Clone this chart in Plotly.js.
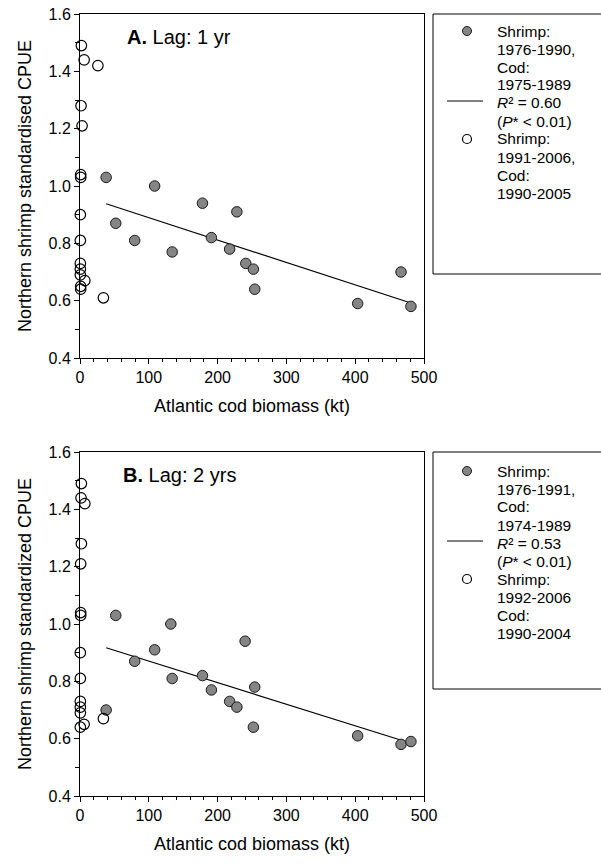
<!DOCTYPE html>
<html>
<head>
<meta charset="utf-8">
<script src="https://cdn.plot.ly/plotly-3.0.1.min.js"></script>
<style>html,body{margin:0;padding:0;background:#fff;}#chart{width:601px;height:867px;}</style>
</head>
<body>
<div id="chart"></div>
<script>
// ---- Panel A (lag 1 yr) ----
const codA_early = [38, 108.5, 178, 228, 52, 79.5, 134, 191, 217.5, 241, 252, 254, 466.6, 403.6, 481];
const cpueA_early = [1.03, 1.00, 0.94, 0.91, 0.87, 0.81, 0.77, 0.82, 0.78, 0.73, 0.71, 0.64, 0.70, 0.59, 0.58];
const codA_late = [2, 6, 26, 1.5, 3, 1, 1, 0.5, 0.5, 0.5, 0.5, 0.5, 7, 1, 1, 34];
const cpueA_late = [1.49, 1.44, 1.42, 1.28, 1.21, 1.04, 1.03, 0.90, 0.81, 0.73, 0.71, 0.69, 0.67, 0.65, 0.64, 0.61];
const fitA_x = [38, 481];
const fitA_y = [0.938, 0.592];
const legendA = ["Shrimp:", "1976-1990,", "Cod:", "1975-1989", "<i>R</i>² = 0.60", "(<i>P</i>* &lt; 0.01)", "Shrimp:", "1991-2006,", "Cod:", "1990-2005"];

// ---- Panel B (lag 2 yrs) ----
const codB_early = [52, 132, 108.5, 79.5, 134, 178, 191, 217.5, 228, 38, 240, 254, 252, 403.6, 466.6, 481];
const cpueB_early = [1.03, 1.00, 0.91, 0.87, 0.81, 0.82, 0.77, 0.73, 0.71, 0.70, 0.94, 0.78, 0.64, 0.61, 0.58, 0.59];
const codB_late = [2, 1.5, 7, 2, 1, 1, 1, 0.5, 0.5, 0.5, 0.5, 0.5, 0.5, 6, 34];
const cpueB_late = [1.49, 1.44, 1.42, 1.28, 1.21, 1.04, 1.03, 0.90, 0.81, 0.73, 0.71, 0.69, 0.64, 0.65, 0.67];
const fitB_x = [38, 481];
const fitB_y = [0.917, 0.584];
const legendB = ["Shrimp:", "1976-1991,", "Cod:", "1974-1989", "<i>R</i>² = 0.53", "(<i>P</i>* &lt; 0.01)", "Shrimp:", "1992-2006", "Cod:", "1990-2004"];

const xTicks = [0, 100, 200, 300, 400, 500];
const yTicks = [0.4, 0.6, 0.8, 1.0, 1.2, 1.4, 1.6];

const W = 601, H = 867;
const FONT = 'Liberation Sans, Arial, Helvetica, sans-serif';
const GRAY = '#858585';
const px = v => v / W;
const py = v => 1 - v / H;

function grayTrace(x, y, xa, ya) {
  return {x: x, y: y, xaxis: xa, yaxis: ya, type: 'scatter', mode: 'markers', cliponaxis: false,
    marker: {size: 10.5, color: GRAY, line: {color: '#1a1a1a', width: 1}}, showlegend: false, hoverinfo: 'skip'};
}
function openTrace(x, y, xa, ya) {
  return {x: x, y: y, xaxis: xa, yaxis: ya, type: 'scatter', mode: 'markers', cliponaxis: false,
    marker: {size: 10.5, color: 'rgba(255,255,255,0)', line: {color: '#000', width: 1.2}}, showlegend: false, hoverinfo: 'skip'};
}
function fitTrace(x, y, xa, ya) {
  return {x: x, y: y, xaxis: xa, yaxis: ya, type: 'scatter', mode: 'lines', cliponaxis: false,
    line: {color: '#000', width: 1.2}, showlegend: false, hoverinfo: 'skip'};
}

const traces = [
  fitTrace(fitA_x, fitA_y, 'x', 'y'),
  grayTrace(codA_early, cpueA_early, 'x', 'y'),
  openTrace(codA_late, cpueA_late, 'x', 'y'),
  fitTrace(fitB_x, fitB_y, 'x2', 'y2'),
  grayTrace(codB_early, cpueB_early, 'x2', 'y2'),
  openTrace(codB_late, cpueB_late, 'x2', 'y2')
];

function xAxis(domainAnchor) {
  return {
    domain: [px(80), px(424)], anchor: domainAnchor, range: [0, 500],
    tickmode: 'array', tickvals: xTicks, ticktext: xTicks.map(String),
    ticks: 'outside', ticklen: 5, tickwidth: 1, tickcolor: '#000',
    minor: {dtick: 20, tick0: 0, ticks: 'outside', ticklen: 3, tickwidth: 1, tickcolor: '#000', showgrid: false},
    showline: true, linecolor: '#000', linewidth: 1, mirror: true,
    showgrid: false, zeroline: false,
    tickfont: {family: FONT, size: 16, color: '#000'},
    title: {text: 'Atlantic cod biomass (kt)', font: {family: FONT, size: 18, color: '#000'}, standoff: 14}
  };
}
function yAxis(domain, anchor, title) {
  return {
    domain: domain, anchor: anchor, range: [0.4, 1.6],
    tickmode: 'array', tickvals: yTicks, ticktext: yTicks.map(v => v.toFixed(1)),
    ticks: 'outside', ticklen: 5, tickwidth: 1, tickcolor: '#000',
    minor: {dtick: 0.1, tick0: 0.4, ticks: 'outside', ticklen: 4, tickwidth: 1, tickcolor: '#000', showgrid: false},
    showline: true, linecolor: '#000', linewidth: 1, mirror: true,
    showgrid: false, zeroline: false,
    tickfont: {family: FONT, size: 16, color: '#000'},
    title: {text: title, font: {family: FONT, size: 18, color: '#000'}, standoff: 12}
  };
}

const shapes = [];
const annotations = [];

function addLegend(labels, boxTop, boxBottom, firstRow) {
  const step = 18;
  shapes.push({type: 'rect', xref: 'paper', yref: 'paper', x0: px(433), x1: px(620), y0: py(boxBottom), y1: py(boxTop),
    line: {color: '#000', width: 1}, fillcolor: 'rgba(0,0,0,0)'});
  labels.forEach((t, i) => {
    annotations.push({xref: 'paper', yref: 'paper', x: px(496), y: py(firstRow + i * step), xanchor: 'left', yanchor: 'middle',
      text: t, showarrow: false, borderpad: 0, font: {family: FONT, size: 15.5, color: '#000'}});
  });
  // symbols
  shapes.push({type: 'circle', xref: 'paper', yref: 'paper', xsizemode: 'pixel', ysizemode: 'pixel',
    xanchor: px(467), yanchor: py(firstRow), x0: -4.5, x1: 4.5, y0: -4.5, y1: 4.5,
    fillcolor: GRAY, line: {color: '#1a1a1a', width: 1}});
  shapes.push({type: 'line', xref: 'paper', yref: 'paper', x0: px(447), x1: px(483),
    y0: py(firstRow + 4 * step - 2), y1: py(firstRow + 4 * step - 2), line: {color: '#000', width: 1}});
  shapes.push({type: 'circle', xref: 'paper', yref: 'paper', xsizemode: 'pixel', ysizemode: 'pixel',
    xanchor: px(467), yanchor: py(firstRow + 6 * step), x0: -4.5, x1: 4.5, y0: -4.5, y1: 4.5,
    fillcolor: '#fff', line: {color: '#000', width: 1.2}});
}
addLegend(legendA, 14, 274, 31);
addLegend(legendB, 452, 689, 471);

annotations.push({xref: 'paper', yref: 'paper', x: px(125), y: py(37), xanchor: 'left', yanchor: 'middle', showarrow: false,
  text: '<b>A.</b> Lag: 1 yr', font: {family: FONT, size: 20, color: '#000'}});
annotations.push({xref: 'paper', yref: 'paper', x: px(121), y: py(475), xanchor: 'left', yanchor: 'middle', showarrow: false,
  text: '<b>B.</b> Lag: 2 yrs', font: {family: FONT, size: 20, color: '#000'}});

const layout = {
  width: W, height: H,
  margin: {l: 0, r: 0, t: 0, b: 0},
  paper_bgcolor: '#fff', plot_bgcolor: 'rgba(0,0,0,0)',
  showlegend: false,
  font: {family: FONT, color: '#000'},
  xaxis: xAxis('y'),
  yaxis: yAxis([py(358), py(14)], 'x', 'Northern shrimp standardised CPUE'),
  xaxis2: xAxis('y2'),
  yaxis2: yAxis([py(796), py(452)], 'x2', 'Northern shrimp standardized CPUE'),
  shapes: shapes,
  annotations: annotations
};

Plotly.newPlot('chart', traces, layout, {staticPlot: true, displayModeBar: false});
</script>
</body>
</html>
